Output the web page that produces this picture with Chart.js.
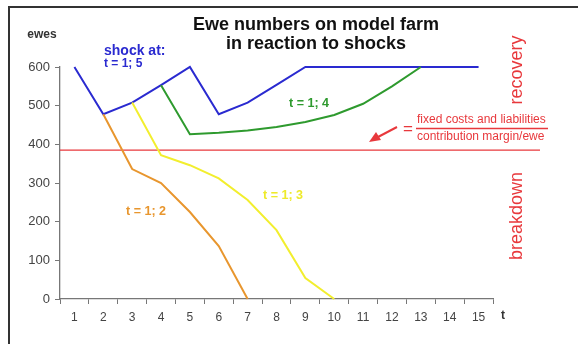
<!DOCTYPE html>
<html>
<head>
<meta charset="utf-8">
<script src="https://cdn.jsdelivr.net/npm/chart.js@4"></script>
<style>
  html, body { margin: 0; padding: 0; background: #fff; }
  #wrap { width: 578px; height: 344px; position: relative; }
</style>
</head>
<body>
<div id="wrap"><canvas id="ewes" width="578" height="344"></canvas></div>
<script>
// time steps t
const labels = ["1", "2", "3", "4", "5", "6", "7", "8", "9", "10", "11", "12", "13", "14", "15"];

// ewe numbers per shock scenario (null = not part of that path)
const shock15 = [600, 478, 508, 553, 600, 478, 508, 554, 600, 600, 600, 600, 600, 600, 600];
const shock14 = [null, null, null, 553, 426, 430, 436, 445, 458, 476, 505, 550, 600, null, null];
const shock13 = [null, null, 508, 372, 346, 312, 256, 178, 54, 0, null, null, null, null, null];
const shock12 = [null, 478, 336, 300, 225, 137, 0, null, null, null, null, null, null, null, null];

const yTicks = [0, 100, 200, 300, 400, 500, 600];
const breakEven = 385;

const FONT = "'Liberation Sans', Arial, sans-serif";

// extra drawing: frame, title, notes, break-even line
const extras = {
  id: 'extras',
  beforeDatasetsDraw(chart) {
    const ctx = chart.ctx;
    const y = chart.scales.y.getPixelForValue(breakEven);
    ctx.save();
    ctx.strokeStyle = '#e8383c';
    ctx.lineWidth = 1.3;
    ctx.beginPath();
    ctx.moveTo(chart.chartArea.left, y);
    ctx.lineTo(540, y);
    ctx.stroke();
    ctx.restore();
  },
  afterDraw(chart) {
    const ctx = chart.ctx;
    ctx.save();

    // frame
    ctx.strokeStyle = '#333';
    ctx.lineWidth = 2;
    ctx.beginPath();
    ctx.moveTo(9, 344);
    ctx.lineTo(9, 7);
    ctx.lineTo(578, 7);
    ctx.stroke();

    // title
    ctx.fillStyle = '#111';
    ctx.textAlign = 'center';
    ctx.textBaseline = 'middle';
    ctx.font = 'bold 18px ' + FONT;
    ctx.fillText('Ewe numbers on model farm', 316, 25);
    ctx.fillText('in reaction to shocks', 316, 44);

    // axis names
    ctx.font = 'bold 12px ' + FONT;
    ctx.fillStyle = '#333';
    ctx.fillText('ewes', 42, 35);
    ctx.fillText('t', 503, 316);

    // series notes
    ctx.textAlign = 'left';
    ctx.font = 'bold 14px ' + FONT;
    ctx.fillStyle = '#2a2ad0';
    ctx.fillText('shock at:', 104, 51);
    ctx.font = 'bold 12px ' + FONT;
    ctx.fillText('t = 1; 5', 104, 64);

    ctx.textAlign = 'center';
    ctx.font = 'bold 12.5px ' + FONT;
    ctx.fillStyle = '#2e9a2e';
    ctx.fillText('t = 1; 4', 309, 104);
    ctx.fillStyle = '#e8962e';
    ctx.fillText('t = 1; 2', 146, 212);
    ctx.fillStyle = '#eeea2a';
    ctx.fillText('t = 1; 3', 283, 196);

    // break-even note
    ctx.fillStyle = '#e8383c';
    ctx.strokeStyle = '#e8383c';
    ctx.font = '17px ' + FONT;
    ctx.fillText('=', 408, 129);
    ctx.font = '12px ' + FONT;
    ctx.textAlign = 'left';
    ctx.fillText('fixed costs and liabilities', 417, 120);
    ctx.fillText('contribution margin/ewe', 417, 137);
    ctx.lineWidth = 1.3;
    ctx.beginPath();
    ctx.moveTo(416, 128.5);
    ctx.lineTo(548, 128.5);
    ctx.stroke();

    // arrow
    ctx.lineWidth = 2;
    ctx.beginPath();
    ctx.moveTo(397, 127);
    ctx.lineTo(378, 137);
    ctx.stroke();
    ctx.beginPath();
    ctx.moveTo(369, 142);
    ctx.lineTo(376, 132);
    ctx.lineTo(381, 140);
    ctx.closePath();
    ctx.fill();

    // side labels
    ctx.font = '18px ' + FONT;
    ctx.textAlign = 'center';
    [['recovery', 70], ['breakdown', 216]].forEach(function(s) {
      ctx.save();
      ctx.translate(517, s[1]);
      ctx.rotate(-Math.PI / 2);
      ctx.fillText(s[0], 0, 0);
      ctx.restore();
    });

    ctx.restore();
  }
};

function line(values, color) {
  return {
    data: values,
    borderColor: color,
    backgroundColor: color,
    borderWidth: 2,
    pointRadius: 0,
    tension: 0,
    clip: false,
    spanGaps: false
  };
}

const ctx = document.getElementById('ewes').getContext('2d');
new Chart(ctx, {
  type: 'line',
  data: {
    labels: labels,
    datasets: [
      line(shock12, '#e8962e'),
      line(shock13, '#f2ee2e'),
      line(shock14, '#2e9a2e'),
      line(shock15, '#2a2ad0')
    ]
  },
  options: {
    responsive: false,
    animation: false,
    events: [],
    layout: {
      padding: { top: 67, right: 85, bottom: 0, left: 0 }
    },
    scales: {
      x: {
        type: 'category',
        offset: true,
        border: { display: true, color: '#777', width: 1.3 },
        grid: {
          offset: true,
          drawOnChartArea: false,
          drawTicks: true,
          tickLength: 5,
          color: '#777'
        },
        ticks: {
          color: '#444',
          padding: 6,
          maxRotation: 0,
          autoSkip: false,
          font: { family: FONT, size: 12 }
        },
        afterFit: function(s) { s.height = 45; }
      },
      y: {
        min: 0,
        max: 600,
        afterBuildTicks: function(s) {
          s.ticks = yTicks.map(function(v) { return { value: v }; });
        },
        border: { display: true, color: '#777', width: 1.3 },
        grid: {
          drawOnChartArea: false,
          drawTicks: true,
          tickLength: 5,
          color: '#777'
        },
        ticks: {
          color: '#444',
          padding: 5,
          font: { family: FONT, size: 13 }
        },
        afterFit: function(s) { s.width = 60; }
      }
    },
    plugins: {
      legend: { display: false },
      tooltip: { enabled: false },
      title: { display: false }
    }
  },
  plugins: [extras]
});
</script>
</body>
</html>
